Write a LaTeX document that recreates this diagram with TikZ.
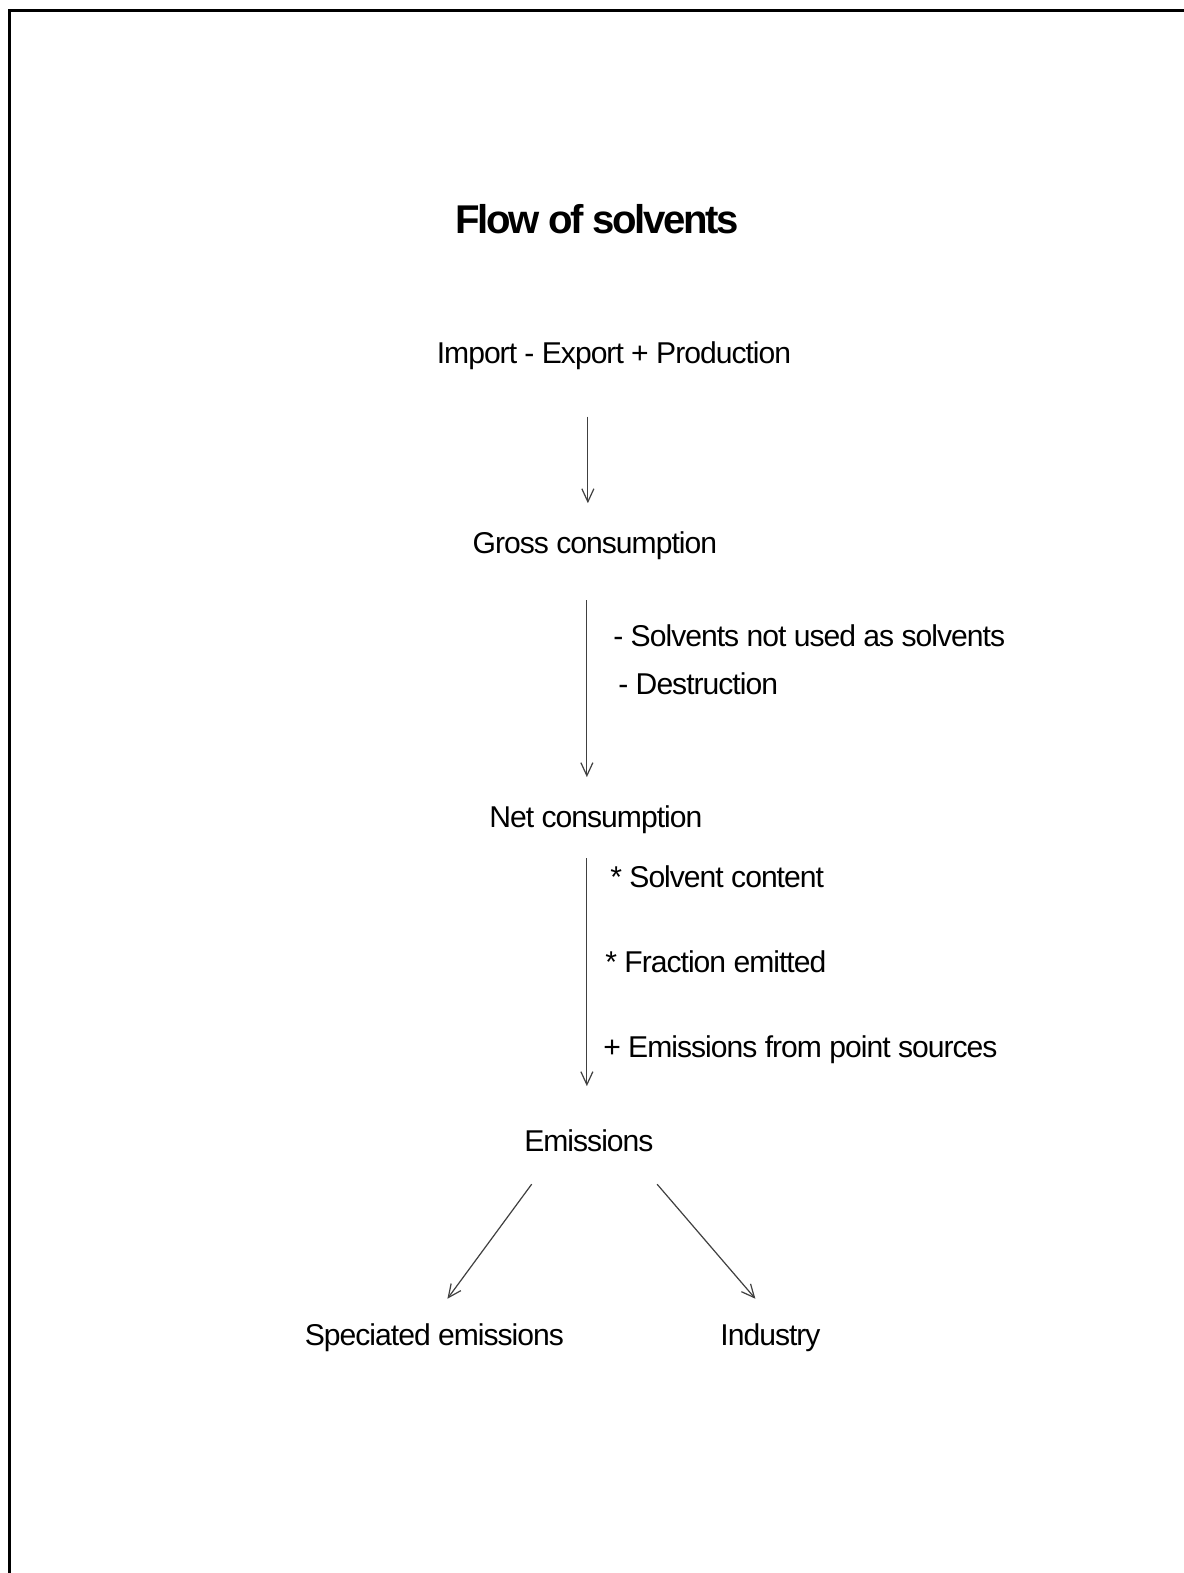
\documentclass[tikz,border=0pt]{standalone}
\usepackage{fontspec}
\setmainfont{Liberation Sans}
\newfontfamily\tightfont[LetterSpace=-3.3]{Liberation Sans}
\newfontfamily\titlefont[LetterSpace=-6]{Liberation Sans}
\usetikzlibrary{arrows.meta,calc}
\begin{document}
\begin{tikzpicture}[x=0.5pt,y=-0.5pt,
  lbl/.style={font=\tightfont\fontsize{15}{17}\selectfont, inner sep=0pt, text height=10pt, text depth=3pt},
  ttl/.style={font=\titlefont\bfseries\fontsize{20}{23}\selectfont, inner sep=0pt, anchor=base},
  arr/.style={draw=black!75, line width=0.6pt, -{Straight Barb[length=6.5pt,width=6pt]}},
  frame/.style={draw=black, line width=1.5pt}]
\useasboundingbox (0,0) rectangle (1180,1568);
\fill[white] (0,0) rectangle (1180,1568);
\draw[frame] (9,1568) -- (9,10) -- (1180,10);

\node[ttl] (title) at (595,233) {Flow of solvents};
\node[lbl] (imp) at (612,355) {Import - Export + Production};
\node[lbl] (gross) at (593,545) {Gross consumption};
\node[lbl] (net) at (594,818) {Net consumption};
\node[lbl] (em) at (587,1141) {Emissions};
\node[lbl] (spec) at (433,1334) {Speciated emissions};
\node[lbl] (ind) at (768,1334) {Industry};

\node[lbl, anchor=west] (l1) at (611,637) {- Solvents not used as solvents};
\node[lbl, anchor=west] (l2) at (616,685) {- Destruction};
\node[lbl, anchor=west] (l3) at (608,878) {* Solvent content};
\node[lbl, anchor=west] (l4) at (603,962) {* Fraction emitted};
\node[lbl, anchor=west] (l5) at (601,1047) {+ Emissions from point sources};

\draw[arr] ($(imp.south)+(-26,47)$) -- ($(gross.north)+(-7,-30)$);
\draw[arr] ($(gross.south)+(-8,40)$) -- ($(net.north)+(-9,-30)$);
\draw[arr] ($(net.south)+(-9,24)$) -- ($(em.north)+(-2,-45)$);
\draw[arr] ($(em.south)+(-57,26)$) -- ($(spec.north)+(13,-26)$);
\draw[arr] ($(em.south)+(68,26)$) -- ($(ind.north)+(-15,-26)$);
\end{tikzpicture}
\end{document}
